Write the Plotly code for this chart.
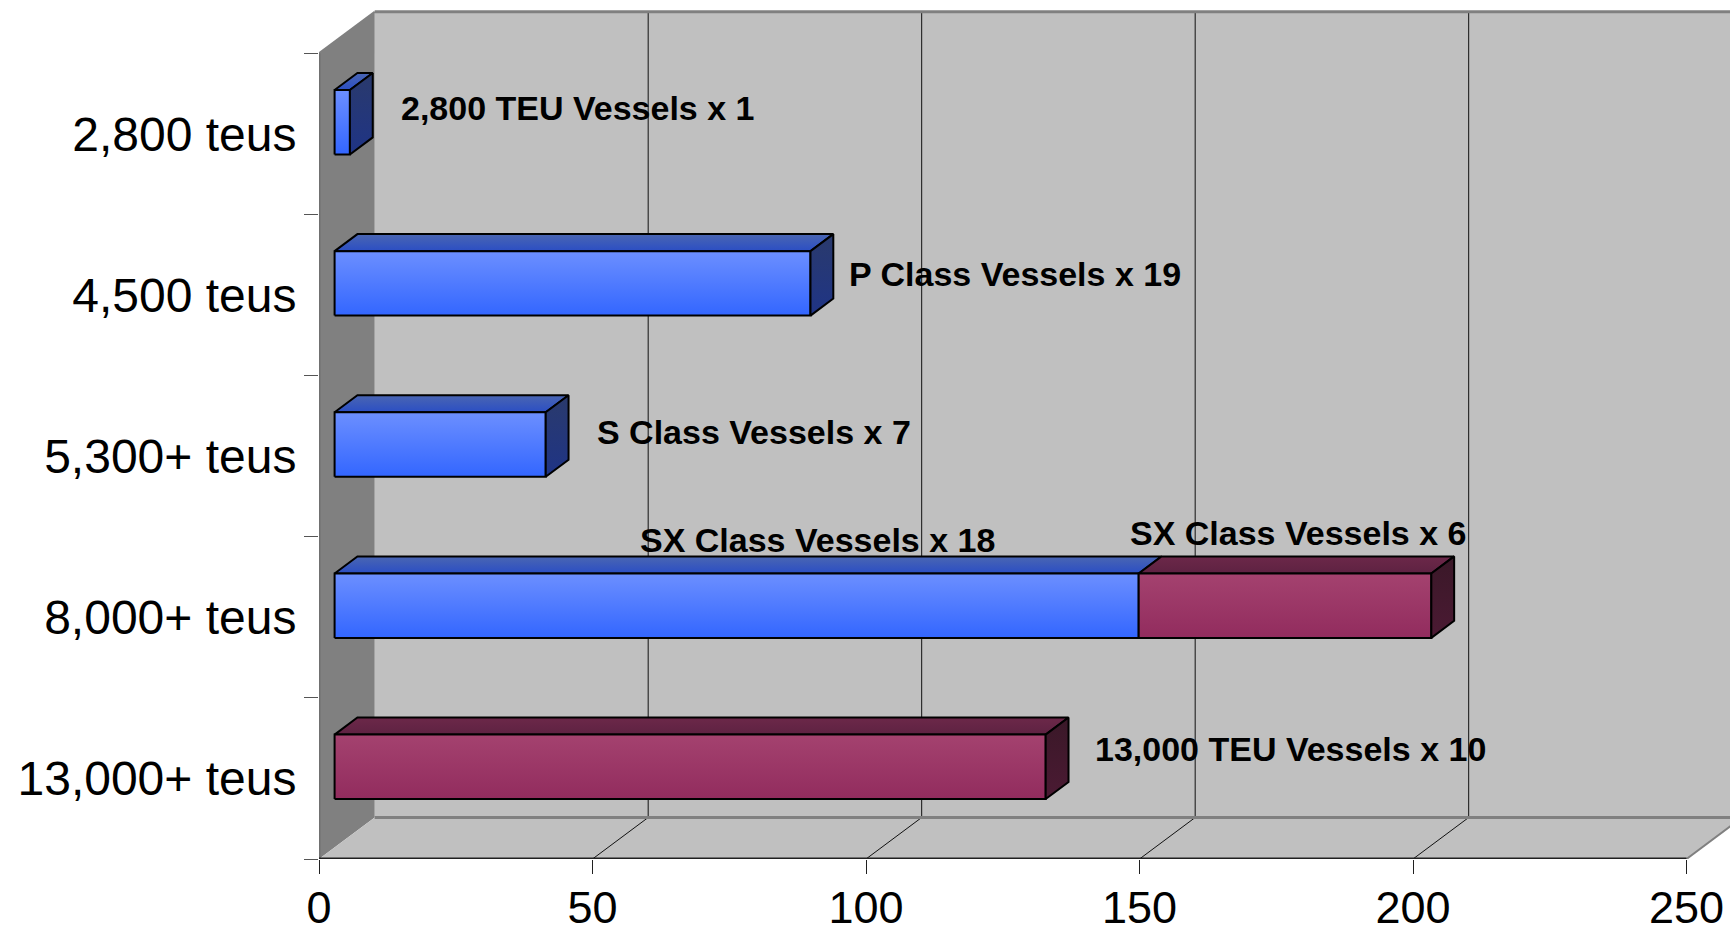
import plotly.graph_objects as go

# ---------------- data ----------------
categories = ["2,800 teus", "4,500 teus", "5,300+ teus", "8,000+ teus", "13,000+ teus"]
# capacity per class, thousand TEU (stacked: blue series then maroon series)
series_blue = [2.8, 87.0, 38.6, 147.0, 0.0]
series_maroon = [0.0, 0.0, 0.0, 53.5, 130.0]
labels_blue = ["2,800 TEU Vessels x 1", "P Class Vessels x 19", "S Class Vessels x 7",
               "SX Class Vessels x 18", ""]
labels_maroon = ["", "", "", "SX Class Vessels x 6", "13,000 TEU Vessels x 10"]
x_ticks = [0, 50, 100, 150, 200, 250]

# ---------------- style ----------------
X_MAX = 250
DX, DY = 10.18, 0.2575          # depth vector of the 3-D box, in axis units
F0, F1 = 0.28, 0.69             # bar depth (front / back) as fraction of box depth
BW = 0.40                       # bar thickness (category units)
NCAT = len(categories)
FONT = "Liberation Sans, Arial, sans-serif"

BLUE = dict(front=("#3366FF", "#6C8FFF"), top=("#2B4EC4", "#4A66B2"), side=("#1F3486", "#2A3A6C"))
MAROON = dict(front=("#922C5E", "#A4426F"), top=("#5E2242", "#6C2849"), side=("#4B1A33", "#3A1828"))

fig = go.Figure()


def face(xs, ys, cols):
    lo, hi = min(ys), max(ys)
    fig.add_trace(go.Scatter(
        x=xs + [xs[0]], y=ys + [ys[0]], mode="lines", fill="toself",
        fillgradient=dict(type="vertical", colorscale=[[0, cols[0]], [1, cols[1]]], start=lo, stop=hi),
        line=dict(color="black", width=2), hoverinfo="skip", showlegend=False))


def bar3d(a, b, c, pal, side):
    y0, y1 = c - BW / 2, c + BW / 2
    # top face
    face([a + F0 * DX, b + F0 * DX, b + F1 * DX, a + F1 * DX],
         [y1 + F0 * DY, y1 + F0 * DY, y1 + F1 * DY, y1 + F1 * DY], pal["top"])
    # front face
    face([a + F0 * DX, b + F0 * DX, b + F0 * DX, a + F0 * DX],
         [y0 + F0 * DY, y0 + F0 * DY, y1 + F0 * DY, y1 + F0 * DY], pal["front"])
    if side:
        face([b + F0 * DX, b + F1 * DX, b + F1 * DX, b + F0 * DX],
             [y0 + F0 * DY, y0 + F1 * DY, y1 + F1 * DY, y1 + F0 * DY], pal["side"])


# ---------------- walls / floor / grid ----------------
shapes = []
shapes.append(dict(type="path", path=f"M {DX},{DY} L {X_MAX+DX},{DY} L {X_MAX+DX},{NCAT+DY} L {DX},{NCAT+DY} Z",
                   fillcolor="#C0C0C0", line=dict(width=0), layer="below"))
shapes.append(dict(type="path", path=f"M 0,0 L {DX},{DY} L {DX},{NCAT+DY} L 0,{NCAT} Z",
                   fillcolor="#808080", line=dict(width=0), layer="below"))
shapes.append(dict(type="path", path=f"M 0,0 L {X_MAX},0 L {X_MAX+DX},{DY} L {DX},{DY} Z",
                   fillcolor="#C0C0C0", line=dict(width=0), layer="below"))
for t in x_ticks[1:]:
    shapes.append(dict(type="line", x0=t + DX, x1=t + DX, y0=DY, y1=NCAT + DY,
                       line=dict(color="#111111", width=1), layer="below"))
for t in x_ticks[1:-1]:
    shapes.append(dict(type="line", x0=t, x1=t + DX, y0=0, y1=DY,
                       line=dict(color="#111111", width=1), layer="below"))
shapes.append(dict(type="line", x0=X_MAX, x1=X_MAX + DX, y0=0, y1=DY,
                   line=dict(color="#808080", width=2), layer="below"))
shapes.append(dict(type="line", x0=DX, x1=X_MAX + DX, y0=NCAT + DY, y1=NCAT + DY,
                   line=dict(color="#808080", width=3), layer="below"))
shapes.append(dict(type="line", x0=DX, x1=X_MAX + DX, y0=DY, y1=DY,
                   line=dict(color="#808080", width=3), layer="below"))
shapes.append(dict(type="line", x0=0, x1=DX, y0=NCAT, y1=NCAT + DY,
                   line=dict(color="#808080", width=2), layer="below"))
shapes.append(dict(type="line", x0=0, x1=0, y0=0, y1=NCAT,
                   line=dict(color="#707070", width=3), layer="below"))
shapes.append(dict(type="line", x0=0, x1=X_MAX, y0=0, y1=0,
                   line=dict(color="#202020", width=3), layer="below"))

# ---------------- bars ----------------
for i in range(NCAT):
    c = NCAT - 0.5 - i
    b1 = series_blue[i]
    b2 = series_maroon[i]
    if b1 > 0:
        bar3d(0, b1, c, BLUE, side=(b2 == 0))
    if b2 > 0:
        bar3d(b1, b1 + b2, c, MAROON, side=True)

# ---------------- data labels ----------------
# (anchor, x-shift px, y-shift px) per label, tuned to the reference
lab_style_blue = [("end", 49, 14), ("end", 37, 9), ("end", 49, 13), ("mid", 81, 66), None]
lab_style_maroon = [None, None, None, ("mid", 13, 73), ("end", 47, 18)]
annotations = []
for i in range(NCAT):
    c = NCAT - 0.5 - i + F0 * DY
    segs = [(0, series_blue[i], labels_blue[i], lab_style_blue[i]),
            (series_blue[i], series_blue[i] + series_maroon[i], labels_maroon[i], lab_style_maroon[i])]
    for a, b, txt, st in segs:
        if not txt:
            continue
        mode, xs, ys = st
        if mode == "end":
            annotations.append(dict(x=b + F0 * DX, y=c, text=txt, xanchor="left", yanchor="middle",
                                    xshift=xs, yshift=ys, showarrow=False,
                                    font=dict(family=FONT, size=34, color="black", weight="bold")))
        else:
            annotations.append(dict(x=(a + b) / 2 + F0 * DX, y=c, text=txt, xanchor="center", yanchor="middle",
                                    xshift=xs, yshift=ys, showarrow=False,
                                    font=dict(family=FONT, size=34, color="black", weight="bold")))

fig.update_layout(
    width=1730, height=934,
    margin=dict(l=319, r=0, t=0, b=75, autoexpand=False),
    paper_bgcolor="white", plot_bgcolor="white",
    shapes=shapes, annotations=annotations,
    showlegend=False,
    xaxis=dict(range=[0, 1411 / 5.47], tickvals=x_ticks, ticktext=[str(t) for t in x_ticks],
               ticks="outside", ticklen=14, tickcolor="#202020", tickwidth=1,
               ticklabelstandoff=-5,
               showgrid=False, zeroline=False, showline=False, automargin=False,
               tickfont=dict(family=FONT, size=45, color="black"), fixedrange=True),
    yaxis=dict(range=[0, 859 / 161.15], tickvals=[NCAT - 0.5 - i for i in range(NCAT)], ticktext=categories,
               ticks="outside", ticklen=12, tickcolor="rgba(0,0,0,0)",
               minor=dict(tickvals=list(range(NCAT + 1)), ticks="outside", ticklen=14,
                          tickcolor="#555555", tickwidth=1, showgrid=False),
               showgrid=False, zeroline=False, showline=False, automargin=False,
               tickfont=dict(family=FONT, size=48, color="black"), fixedrange=True),
)

fig.write_html("out.html", config={"displayModeBar": False},
               post_script="document.body.style.margin='0';")
